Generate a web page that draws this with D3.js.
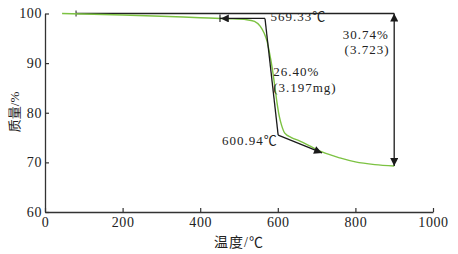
<!DOCTYPE html>
<html>
<head>
<meta charset="utf-8">
<script src="https://cdn.jsdelivr.net/npm/d3@7"></script>
<style>
  body { margin: 0; background: #fff; }
  svg text { font-family: "Liberation Serif", "Times New Roman", "Noto Sans CJK SC", serif; fill: #222; }
</style>
</head>
<body>
<svg id="chart" width="458" height="254"></svg>
<script>
// TG curve, temperature (℃) vs mass (%)
let temps = [44, 100, 200, 300, 400, 470, 520, 540, 555, 565, 572, 578, 585, 592, 598, 604, 610, 618, 635, 657, 685, 714, 760, 800, 850, 900];
let mass = [100, 99.9, 99.7, 99.45, 99.15, 98.95, 98.75, 98.4, 97.4, 96.0, 94.5, 92.3, 89.3, 85.5, 82, 79.2, 77.4, 75.9, 75.0, 74.3, 73.2, 72.1, 70.9, 70.1, 69.55, 69.26];

let xTicks = [0, 200, 400, 600, 800, 1000];
let yTicks = [60, 70, 80, 90, 100];

// annotation points [temp, mass]
let baseLine = [[80, 100], [900, 100]];
let onsetLine = [[567, 99.0], [451, 99.0]];
let stepLine = [[567, 99.0], [600.94, 75.5]];
let endLine = [[600.94, 75.5], [714, 71.9]];
let totalLine = [[900, 100], [900, 69.26]];

let labels = [
    {t: 581, m: 98.4, text: "569.33℃", anchor: "start"},
    {t: 886, m: 94.9, text: "30.74%", anchor: "end"},
    {t: 888, m: 91.9, text: "(3.723)", anchor: "end"},
    {t: 588, m: 87.4, text: "26.40%", anchor: "start"},
    {t: 588, m: 84.2, text: "(3.197mg)", anchor: "start"},
    {t: 600, m: 73.6, text: "600.94℃", anchor: "end"}
];

let svg = d3.select("#chart");

let x = d3.scaleLinear().domain([0, 1000]).range([45, 433]);
let y = d3.scaleLinear().domain([60, 100]).range([212, 13.5]);

let defs = svg.append("defs");
defs.append("marker")
    .attr("id", "arrow")
    .attr("markerUnits", "userSpaceOnUse")
    .attr("viewBox", "0 0 10 10")
    .attr("refX", 10).attr("refY", 5)
    .attr("markerWidth", 9).attr("markerHeight", 8)
    .attr("orient", "auto-start-reverse")
    .append("path")
    .attr("d", "M0,0 L10,5 L0,10 Z")
    .attr("fill", "#1a1a1a");
let barMarker = defs.append("marker")
    .attr("id", "arrowbar")
    .attr("markerUnits", "userSpaceOnUse")
    .attr("viewBox", "0 0 12 10")
    .attr("refX", 11).attr("refY", 5)
    .attr("markerWidth", 10).attr("markerHeight", 8)
    .attr("orient", "auto");
barMarker.append("path")
    .attr("d", "M0,0 L10,5 L0,10 Z")
    .attr("fill", "#1a1a1a");
barMarker.append("path")
    .attr("d", "M11,0 L11,10")
    .attr("stroke", "#1a1a1a")
    .attr("stroke-width", 1.4);

// axes
let xAxis = d3.axisBottom(x).tickValues(xTicks).tickFormat(d3.format("d"))
    .tickSizeInner(-4).tickSizeOuter(0).tickPadding(5);
let yAxis = d3.axisLeft(y).tickValues(yTicks).tickFormat(d3.format("d"))
    .tickSizeInner(-4).tickSizeOuter(0).tickPadding(3);

let gx = svg.append("g").attr("transform", "translate(0,212)").call(xAxis);
let gy = svg.append("g").attr("transform", "translate(45,0)").call(yAxis);
[gx, gy].forEach((g) => {
    g.select(".domain").attr("stroke", "#333").attr("stroke-width", 1.3);
    g.selectAll(".tick line").attr("stroke", "#333").attr("stroke-width", 1.2);
    g.selectAll(".tick text")
        .attr("font-size", 14)
        .attr("font-family", "Liberation Serif, serif")
        .attr("letter-spacing", 0.6)
        .attr("fill", "#222");
});

svg.append("text")
    .attr("x", 239).attr("y", 247)
    .attr("text-anchor", "middle")
    .attr("font-size", 14)
    .attr("letter-spacing", 1)
    .text("温度/℃");

svg.append("text")
    .attr("transform", "translate(19,112) rotate(-90)")
    .attr("text-anchor", "middle")
    .attr("font-size", 13)
    .text("质量/%");

let line = d3.line().x((d) => x(d[0])).y((d) => y(d[1]));

// black annotation lines
svg.append("path").datum(baseLine)
    .attr("d", line).attr("fill", "none")
    .attr("stroke", "#222").attr("stroke-width", 1.3);
svg.append("line")
    .attr("x1", x(baseLine[0][0])).attr("x2", x(baseLine[0][0]))
    .attr("y1", y(100) - 3).attr("y2", y(100) + 3)
    .attr("stroke", "#333").attr("stroke-width", 1.1);

// green TG curve
svg.append("path")
    .datum(d3.zip(temps, mass))
    .attr("d", line.curve(d3.curveMonotoneX))
    .attr("fill", "none")
    .attr("stroke", "#7cc242")
    .attr("stroke-width", 1.4);
line.curve(d3.curveLinear);

svg.append("path").datum(onsetLine)
    .attr("d", line).attr("fill", "none")
    .attr("stroke", "#1a1a1a").attr("stroke-width", 1.3)
    .attr("marker-end", "url(#arrowbar)");
svg.append("path").datum(stepLine)
    .attr("d", line).attr("fill", "none")
    .attr("stroke", "#1a1a1a").attr("stroke-width", 1.3);
svg.append("path").datum(endLine)
    .attr("d", line).attr("fill", "none")
    .attr("stroke", "#1a1a1a").attr("stroke-width", 1.3)
    .attr("marker-end", "url(#arrow)");
svg.append("path").datum(totalLine)
    .attr("d", line).attr("fill", "none")
    .attr("stroke", "#1a1a1a").attr("stroke-width", 1.3)
    .attr("marker-start", "url(#arrow)")
    .attr("marker-end", "url(#arrow)");

svg.selectAll("text.note")
    .data(labels)
    .enter().append("text")
    .attr("class", "note")
    .attr("x", (d) => x(d.t))
    .attr("y", (d) => y(d.m))
    .attr("text-anchor", (d) => d.anchor)
    .attr("font-size", 13)
    .attr("letter-spacing", 1)
    .text((d) => d.text);
</script>
</body>
</html>
